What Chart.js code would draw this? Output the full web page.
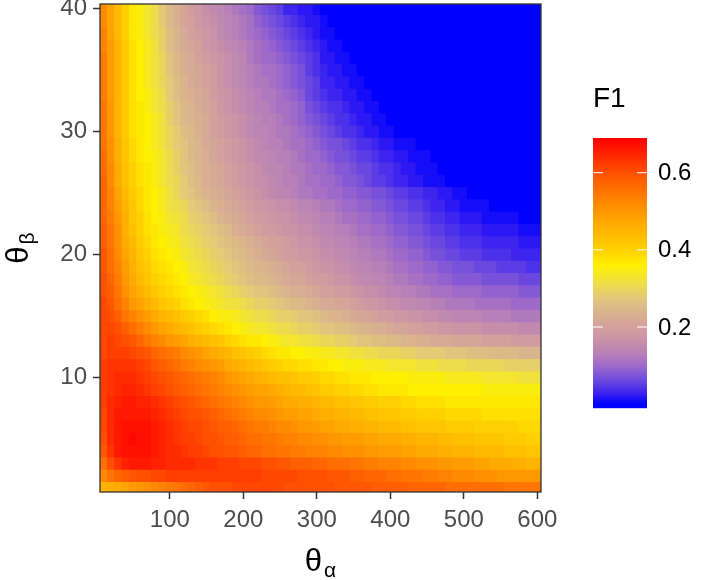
<!DOCTYPE html>
<html>
<head>
<meta charset="utf-8">
<script src="https://cdn.jsdelivr.net/npm/chart.js@4.4.1/dist/chart.umd.min.js"></script>
<style>
html,body{margin:0;padding:0;background:#ffffff;}
#wrap{width:702px;height:580px;position:relative;}
</style>
</head>
<body>
<div id="wrap"><canvas id="c" width="702" height="580"></canvas></div>
<script>
// ---- categories ----
const thetaAlpha = [10,20,30,40,50,60,70,80,90,100,110,120,130,140,150,160,170,180,190,200,
  210,220,230,240,250,260,270,280,290,300,310,320,330,340,350,360,370,380,390,400,
  410,420,430,440,450,460,470,480,490,500,510,520,530,540,550,560,570,580,590,600];
const thetaBeta = [1,2,3,4,5,6,7,8,9,10,11,12,13,14,15,16,17,18,19,20,
  21,22,23,24,25,26,27,28,29,30,31,32,33,34,35,36,37,38,39,40];

// ---- tick labels ----
const xTickValues = [100,200,300,400,500,600];
const yTickValues = [10,20,30,40];
const legendTickValues = [0.2,0.4,0.6];

// ---- F1 values (in hundredths), one row per theta_beta, columns follow thetaAlpha ----
const f1_b01 = [45,46,47,48,49,50,51,52,53,54,55,56,57,58,59,60,60,60,61,61,61,61,61,61,61,60,60,60,60,60,60,60,59,59,59,59,59,58,58,58,58,58,57,57,57,57,57,56,56,56,56,56,56,56,56,55,55,55,55,55];
const f1_b02 = [52,55,57,58,59,60,60,61,61,62,62,62,62,62,62,62,62,62,62,62,62,62,61,61,61,61,61,60,60,60,60,59,59,59,58,58,57,57,57,56,56,55,55,55,54,54,53,53,52,52,52,51,51,51,50,50,50,50,50,50];
const f1_b03 = [56,60,63,65,66,66,66,65,65,64,64,64,64,63,63,63,62,62,62,61,61,61,60,60,59,59,58,58,58,57,57,56,56,56,55,55,54,54,53,53,53,52,52,51,51,51,50,50,49,49,49,48,48,47,47,47,46,46,45,45];
const f1_b04 = [59,63,66,67,67,67,67,66,65,64,64,63,62,62,61,60,60,59,59,58,57,57,56,56,55,55,54,54,53,53,53,52,52,51,51,51,50,50,49,49,49,48,48,47,47,47,46,46,45,45,45,44,44,44,44,43,43,43,42,42];
const f1_b05 = [60,64,66,67,68,67,67,66,65,64,63,62,62,61,60,60,59,58,58,57,56,56,55,55,54,53,53,52,52,51,51,50,50,49,49,49,48,48,47,47,47,46,46,45,45,45,44,44,43,43,43,42,42,42,42,41,41,41,40,40];
const f1_b06 = [61,64,66,67,67,67,67,66,65,64,63,62,61,61,60,59,58,58,57,56,55,54,54,53,52,52,51,50,50,49,48,48,47,47,46,46,45,45,44,44,44,43,43,42,42,42,42,41,41,41,41,40,40,40,40,40,40,39,39,39];
const f1_b07 = [61,64,66,66,66,66,66,65,64,63,62,61,60,60,59,58,57,56,55,54,53,52,52,51,50,49,49,48,48,47,46,46,45,45,44,44,43,43,42,42,42,41,41,40,40,40,40,39,39,39,39,39,38,38,38,38,38,38,38,38];
const f1_b08 = [62,64,65,66,66,65,65,64,63,62,61,60,59,58,57,56,55,54,53,52,51,50,50,49,48,47,47,46,46,45,44,44,43,43,42,42,41,41,40,40,40,39,39,38,38,38,38,37,37,37,37,37,37,37,37,37,37,37,37,37];
const f1_b09 = [62,63,64,65,65,64,63,62,61,60,59,58,57,56,55,54,53,52,51,50,49,48,48,47,46,45,44,44,43,42,41,41,40,40,39,39,38,38,37,37,37,37,36,36,36,36,36,36,36,36,36,36,35,35,35,35,35,35,35,35];
const f1_b10 = [62,63,64,64,64,63,62,61,60,59,58,57,56,55,54,53,52,50,49,48,47,46,45,44,43,43,42,41,41,40,39,39,38,38,37,37,37,36,36,36,36,36,35,35,35,35,35,34,34,34,34,34,33,33,33,33,33,32,32,32];
const f1_b11 = [62,63,63,63,63,62,61,59,58,57,56,54,53,52,51,50,49,47,46,45,44,43,42,41,40,39,39,38,38,37,37,36,36,35,35,35,34,34,34,33,33,33,33,32,32,32,31,31,31,31,30,30,30,30,30,29,29,29,29,29];
const f1_b12 = [61,62,62,62,61,60,59,57,56,55,54,52,51,50,48,47,46,45,43,42,41,40,39,38,37,37,36,36,35,35,34,34,33,33,32,32,31,31,30,30,30,29,29,28,28,28,28,27,27,27,26,26,26,25,25,25,25,24,24,24];
const f1_b13 = [61,62,61,60,59,57,55,53,52,50,49,48,46,45,44,43,42,40,39,38,37,37,36,35,34,33,33,32,32,31,30,30,29,29,28,27,27,26,26,25,25,24,24,23,23,22,22,22,21,21,21,21,20,20,20,20,19,19,19,19];
const f1_b14 = [61,61,60,58,56,54,52,50,48,47,45,44,43,41,40,39,38,37,36,35,34,33,33,32,31,31,30,29,29,28,27,27,26,26,25,24,24,23,23,22,21,21,20,20,19,19,18,18,17,17,17,17,16,16,16,16,16,15,15,15];
const f1_b15 = [61,60,58,55,53,51,49,47,45,44,43,41,40,39,38,36,35,35,34,33,32,31,31,30,29,29,28,27,27,26,25,24,24,23,22,21,21,20,19,19,18,18,17,17,16,16,15,15,14,14,14,14,13,13,13,13,12,12,12,12];
const f1_b16 = [61,59,56,53,50,48,46,44,42,41,40,38,37,36,35,34,33,32,32,31,30,29,29,28,27,26,25,25,24,23,22,22,21,21,20,19,18,18,17,16,16,15,15,14,14,13,13,12,12,12,12,11,11,11,11,11,10,10,10,10];
const f1_b17 = [60,58,55,51,48,46,44,42,40,39,38,37,36,35,34,33,32,31,30,29,28,27,27,26,25,24,23,23,22,21,20,20,19,19,18,17,16,16,15,14,14,13,13,12,12,11,11,11,10,10,10,10,9,9,9,9,9,8,8,8];
const f1_b18 = [60,57,54,50,47,44,42,40,39,38,37,36,34,33,32,31,30,29,28,27,26,25,25,24,23,22,21,21,20,19,19,18,17,17,16,15,15,14,14,13,12,12,11,11,10,10,9,9,8,8,8,8,7,7,7,7,7,6,6,6];
const f1_b19 = [59,56,53,49,46,43,41,39,38,37,36,35,33,32,31,30,29,28,27,26,25,24,24,23,22,21,20,20,19,18,17,17,16,16,15,14,14,13,13,12,11,11,10,10,9,9,8,8,7,7,7,6,6,6,5,5,5,5,4,4];
const f1_b20 = [59,56,52,48,45,42,40,38,37,36,35,33,32,31,30,29,28,27,26,25,24,23,22,21,20,19,19,18,18,17,16,16,15,15,14,13,13,12,12,11,10,10,9,9,8,7,7,6,6,5,5,5,4,4,4,4,3,3,3,3];
const f1_b21 = [58,55,51,47,44,41,39,37,36,35,34,32,31,30,29,28,27,26,25,24,23,22,21,20,20,19,18,17,17,16,15,15,14,14,13,12,12,11,11,10,9,9,8,8,7,6,6,5,5,4,4,4,3,3,3,3,3,2,2,2];
const f1_b22 = [58,55,51,46,43,40,38,37,35,34,33,31,30,29,28,27,26,25,23,22,21,20,19,19,18,17,17,16,16,15,14,14,13,13,12,11,11,10,10,9,8,8,7,7,6,5,5,4,4,3,3,3,2,2,2,2,2,1,1,1];
const f1_b23 = [57,54,50,46,42,40,38,36,35,33,32,31,29,28,27,26,24,23,22,21,20,19,19,18,17,17,16,15,15,14,13,13,12,11,11,10,10,9,9,8,7,7,6,6,5,4,4,3,3,2,2,2,1,1,1,1,1,0,0,0];
const f1_b24 = [57,53,49,45,42,39,37,36,34,32,31,30,28,27,26,24,23,22,21,20,19,18,18,17,16,16,15,14,14,13,12,12,11,10,10,9,9,8,8,7,6,6,5,5,4,3,3,2,2,1,1,1,1,0,0,0,0,0,0,0];
const f1_b25 = [57,53,48,44,41,39,37,36,34,32,30,28,27,25,24,23,22,21,20,19,18,17,16,15,14,14,13,12,12,11,11,10,10,9,9,8,8,7,7,6,5,5,4,4,3,3,2,2,1,1,0,0,0,0,0,0,0,0,0,0];
const f1_b26 = [57,52,47,43,40,38,37,35,33,31,30,28,26,25,23,22,21,20,19,18,17,16,16,15,14,13,13,12,11,11,10,10,9,8,8,7,6,5,5,4,3,3,2,2,1,1,1,0,0,0,0,0,0,0,0,0,0,0,0,0];
const f1_b27 = [56,52,47,43,40,38,37,35,33,31,29,27,26,24,23,22,21,20,19,18,17,16,15,14,14,13,12,12,11,10,10,9,8,8,7,6,6,5,4,4,3,2,2,1,1,1,0,0,0,0,0,0,0,0,0,0,0,0,0,0];
const f1_b28 = [56,51,46,42,39,37,36,35,33,31,29,27,25,24,23,21,20,19,18,17,16,15,15,14,13,13,12,11,10,10,9,8,7,7,6,5,5,4,3,3,2,2,1,1,1,0,0,0,0,0,0,0,0,0,0,0,0,0,0,0];
const f1_b29 = [55,51,46,42,39,37,36,34,32,30,28,27,25,24,22,21,20,19,18,17,16,15,14,13,13,12,11,11,10,9,8,7,7,6,5,4,4,3,2,2,1,1,1,0,0,0,0,0,0,0,0,0,0,0,0,0,0,0,0,0];
const f1_b30 = [55,50,45,41,38,37,36,34,32,30,28,26,25,23,22,20,19,18,17,16,15,14,14,13,12,12,11,10,9,8,7,6,5,4,4,3,2,2,1,1,0,0,0,0,0,0,0,0,0,0,0,0,0,0,0,0,0,0,0,0];
const f1_b31 = [55,50,45,41,38,37,36,34,32,29,27,25,24,23,22,20,19,18,17,16,15,14,13,13,12,11,10,9,8,7,6,5,4,4,3,2,2,1,1,0,0,0,0,0,0,0,0,0,0,0,0,0,0,0,0,0,0,0,0,0];
const f1_b32 = [55,50,45,41,38,37,35,33,31,29,27,25,24,22,21,20,18,17,16,15,14,13,13,12,11,11,10,9,7,6,5,4,4,3,2,2,1,1,0,0,0,0,0,0,0,0,0,0,0,0,0,0,0,0,0,0,0,0,0,0];
const f1_b33 = [54,49,45,41,38,36,35,33,31,28,26,24,23,22,21,19,18,17,16,15,14,13,12,12,11,10,9,8,6,5,4,3,3,2,2,1,1,0,0,0,0,0,0,0,0,0,0,0,0,0,0,0,0,0,0,0,0,0,0,0];
const f1_b34 = [54,49,45,41,38,36,34,32,30,28,26,24,22,21,20,19,17,16,15,14,13,12,12,11,10,9,8,7,6,5,3,3,2,2,1,1,0,0,0,0,0,0,0,0,0,0,0,0,0,0,0,0,0,0,0,0,0,0,0,0];
const f1_b35 = [54,49,45,41,38,36,34,32,30,27,25,23,22,21,20,19,17,16,15,14,13,12,11,11,10,9,8,7,5,4,3,2,2,1,1,0,0,0,0,0,0,0,0,0,0,0,0,0,0,0,0,0,0,0,0,0,0,0,0,0];
const f1_b36 = [54,49,45,41,38,36,34,32,30,27,25,23,22,20,19,18,17,16,15,14,12,11,10,10,9,8,7,6,5,4,2,2,1,1,0,0,0,0,0,0,0,0,0,0,0,0,0,0,0,0,0,0,0,0,0,0,0,0,0,0];
const f1_b37 = [53,49,45,41,38,36,34,32,29,26,24,22,21,20,18,17,16,15,14,13,12,11,10,9,8,7,6,5,4,3,2,1,1,0,0,0,0,0,0,0,0,0,0,0,0,0,0,0,0,0,0,0,0,0,0,0,0,0,0,0];
const f1_b38 = [53,48,44,40,37,35,33,31,29,26,24,22,20,19,18,17,15,14,13,12,11,10,9,8,7,6,5,4,3,2,1,1,0,0,0,0,0,0,0,0,0,0,0,0,0,0,0,0,0,0,0,0,0,0,0,0,0,0,0,0];
const f1_b39 = [52,48,44,40,37,35,33,31,28,25,23,21,20,18,17,16,15,14,13,12,11,9,8,7,6,5,4,3,2,2,1,0,0,0,0,0,0,0,0,0,0,0,0,0,0,0,0,0,0,0,0,0,0,0,0,0,0,0,0,0];
const f1_b40 = [52,48,44,40,37,35,33,31,28,25,23,21,19,18,16,15,14,13,12,11,10,8,7,6,5,3,3,2,2,1,0,0,0,0,0,0,0,0,0,0,0,0,0,0,0,0,0,0,0,0,0,0,0,0,0,0,0,0,0,0];

const f1Rows = [f1_b01,f1_b02,f1_b03,f1_b04,f1_b05,f1_b06,f1_b07,f1_b08,f1_b09,f1_b10,
  f1_b11,f1_b12,f1_b13,f1_b14,f1_b15,f1_b16,f1_b17,f1_b18,f1_b19,f1_b20,
  f1_b21,f1_b22,f1_b23,f1_b24,f1_b25,f1_b26,f1_b27,f1_b28,f1_b29,f1_b30,
  f1_b31,f1_b32,f1_b33,f1_b34,f1_b35,f1_b36,f1_b37,f1_b38,f1_b39,f1_b40];

// ---- colour scale (value -> rgb) ----
const COLOR_STOPS = [
  [0.000,   0,   0, 255],
  [0.027,  58,  32, 240],
  [0.060, 106,  72, 224],
  [0.095, 154, 102, 204],
  [0.130, 184, 128, 184],
  [0.164, 200, 144, 168],
  [0.200, 212, 160, 156],
  [0.233, 216, 176, 144],
  [0.275, 226, 200, 124],
  [0.318, 240, 224,  64],
  [0.360, 255, 240,   0],
  [0.400, 255, 208,   0],
  [0.473, 255, 168,   0],
  [0.535, 255, 128,   0],
  [0.600, 255,  80,   0],
  [0.687, 255,   0,   0]
];
function colorFor(v) {
  const s = COLOR_STOPS;
  if (v <= s[0][0]) return `rgb(${s[0][1]},${s[0][2]},${s[0][3]})`;
  for (let k = 1; k < s.length; k++) {
    if (v <= s[k][0]) {
      const a = s[k-1], b = s[k];
      const t = (v - a[0]) / (b[0] - a[0]);
      const r = Math.round(a[1] + (b[1]-a[1])*t);
      const g = Math.round(a[2] + (b[2]-a[2])*t);
      const bl = Math.round(a[3] + (b[3]-a[3])*t);
      return `rgb(${r},${g},${bl})`;
    }
  }
  const l = s[s.length-1];
  return `rgb(${l[1]},${l[2]},${l[3]})`;
}

// ---- build cells ----
const cells = [];
thetaBeta.forEach((b, j) => {
  thetaAlpha.forEach((a, i) => {
    cells.push({ x: a, y: [b - 0.5, b + 0.5], f1: f1Rows[j][i] / 100 });
  });
});

const FONT = '"Liberation Sans", Arial, Helvetica, sans-serif';
const LEG = { left: 593, right: 647, top: 138, bottom: 408, vmin: -0.01, vmax: 0.69 };

const decorations = {
  id: 'decorations',
  afterDraw(chart) {
    const ctx = chart.ctx, a = chart.chartArea;
    ctx.save();
    // panel border
    ctx.strokeStyle = '#333333';
    ctx.lineWidth = 1.3;
    ctx.strokeRect(a.left, a.top, a.right - a.left, a.bottom - a.top);

    // axis titles
    ctx.fillStyle = '#000000';
    ctx.textBaseline = 'alphabetic';
    ctx.textAlign = 'left';
    const drawSub = (cx, y, main, sub) => {
      ctx.font = '31px ' + FONT; const w1 = ctx.measureText(main).width;
      ctx.font = '21px ' + FONT; const w2 = ctx.measureText(sub).width;
      const x0 = cx - (w1 + 2 + w2) / 2;
      ctx.font = '31px ' + FONT; ctx.fillText(main, x0, y);
      ctx.font = '21px ' + FONT; ctx.fillText(sub, x0 + w1 + 2, y + 6);
    };
    drawSub((a.left + a.right) / 2, 571, '\u03b8', '\u03b1');
    ctx.save();
    ctx.translate(28, (a.top + a.bottom) / 2);
    ctx.rotate(-Math.PI / 2);
    drawSub(0, 0, '\u03b8', '\u03b2');
    ctx.restore();

    // legend title
    ctx.font = '28px ' + FONT;
    ctx.fillStyle = '#000000';
    ctx.fillText('F1', 593, 107);

    // colour bar
    const H = LEG.bottom - LEG.top;
    for (let p = 0; p < H; p++) {
      const v = LEG.vmax - (p + 0.5) / H * (LEG.vmax - LEG.vmin);
      ctx.fillStyle = colorFor(v);
      ctx.fillRect(LEG.left, LEG.top + p, LEG.right - LEG.left, 1.2);
    }
    // ticks and labels
    ctx.strokeStyle = '#ffffff';
    ctx.lineWidth = 1;
    ctx.font = '24px ' + FONT;
    ctx.fillStyle = '#000000';
    ctx.textBaseline = 'middle';
    legendTickValues.forEach(v => {
      const y = LEG.bottom - (v - LEG.vmin) / (LEG.vmax - LEG.vmin) * H;
      ctx.beginPath();
      ctx.moveTo(LEG.left, y); ctx.lineTo(LEG.left + 10, y);
      ctx.moveTo(LEG.right - 10, y); ctx.lineTo(LEG.right, y);
      ctx.stroke();
      ctx.fillText(v.toFixed(1), 658, y + 1);
    });
    ctx.restore();
  }
};

new Chart(document.getElementById('c'), {
  type: 'bar',
  data: {
    datasets: [{
      data: cells,
      backgroundColor: (c) => c.raw ? colorFor(c.raw.f1) : '#000',
      borderWidth: 0,
      inflateAmount: 0.5,
      categoryPercentage: 1.0,
      barPercentage: 1.0
    }]
  },
  options: {
    responsive: false,
    devicePixelRatio: 1,
    animation: false,
    events: [],
    layout: { padding: { left: 0, top: 4, right: 161, bottom: 0 } },
    plugins: { legend: { display: false }, tooltip: { enabled: false } },
    scales: {
      x: {
        type: 'linear',
        min: 5, max: 605,
        offset: false,
        grid: { display: true, offset: false, drawOnChartArea: false, drawTicks: true, tickLength: 7, tickColor: '#333333', tickWidth: 1.5 },
        border: { display: false },
        ticks: { color: '#4d4d4d', font: { family: FONT, size: 24 }, padding: 7, maxRotation: 0, autoSkip: false },
        afterBuildTicks: (s) => { s.ticks = xTickValues.map(v => ({ value: v })); },
        afterFit: (s) => { s.height = 88; s.paddingLeft = 0; s.paddingRight = 0; }
      },
      y: {
        type: 'linear',
        min: 0.65, max: 40.35,
        grid: { display: true, drawOnChartArea: false, drawTicks: true, tickLength: 7, tickColor: '#333333', tickWidth: 1.5 },
        border: { display: false },
        ticks: { color: '#4d4d4d', font: { family: FONT, size: 24 }, padding: 6, autoSkip: false },
        afterBuildTicks: (s) => { s.ticks = yTickValues.map(v => ({ value: v })); },
        afterFit: (s) => { s.width = 100; s.paddingTop = 0; s.paddingBottom = 0; }
      }
    }
  },
  plugins: [decorations]
});
</script>
</body>
</html>
